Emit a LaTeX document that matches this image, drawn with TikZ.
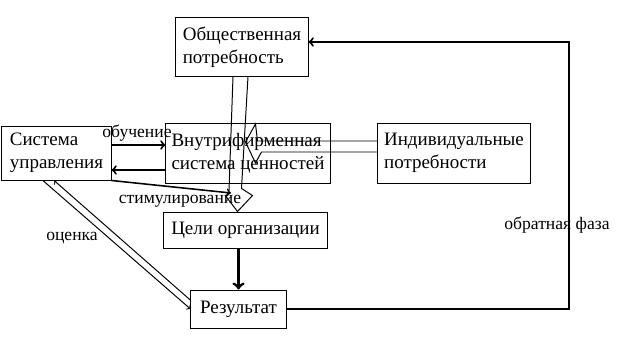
\documentclass[tikz,border=0pt]{standalone}
\usepackage{fontspec}
\setmainfont{Liberation Serif}
\begin{document}
\begin{tikzpicture}[x=0.025cm, y=-0.025cm, line width=0.7pt,
  box/.style={draw, align=left, inner sep=0pt, font=\fontsize{13.5pt}{16pt}\selectfont},
  lbl/.style={inner sep=0pt, font=\fontsize{12.5pt}{15pt}\selectfont}]
\useasboundingbox (0,0) rectangle (624,348);
\node[box, minimum width=3.3cm, minimum height=1.45cm] (obsh) at (242,47) {Общественная\\потребность};
\node[box, minimum width=2.725cm, minimum height=1.35cm] (sys) at (56.5,153) {Система\\управления};
\node[box, minimum width=4.1cm, minimum height=1.5cm] (vnutr) at (248,153) {Внутрифирменная\\система ценностей};
\node[box, minimum width=3.8cm, minimum height=1.5cm] (indiv) at (454,153) {Индивидуальные\\потребности};
\node[box, minimum width=4.075cm, minimum height=0.9cm] (celi) at (245.5,230) {Цели организации};
\node[box, minimum width=2.375cm, minimum height=0.95cm] (rez) at (238.5,309) {Результат};
\node[lbl] (obuch) at (137,133) {обучение};
\node[lbl] (stimul) at (180,201) {стимулирование};
\node[lbl] (ocenka) at (72,238) {оценка};
\node[lbl] (obrat) at (557,225) {обратная фаза};
\coordinate (stim) at (231,193);
\coordinate (fb) at (569,42);
% hollow arrows
\draw ([xshift=-0.225cm]obsh.south) -- ++(-4,114) -- ++(-3,6) -- ([xshift=-0.2cm]celi.north)
  -- ++(15,-16) -- ++(-11,-7) -- ([xshift=0.15cm]obsh.south);
\draw ([yshift=0.3cm]indiv.west) -- ++(-120,0) -- ++(-2,-17) -- ++(-10,18) -- ++(10,21)
  -- ++(6,-11) -- ([yshift=0.025cm]indiv.west);
% connectors
\draw[->, line width=1.4pt] ([yshift=0.2cm]sys.east) -- ([yshift=0.2cm]vnutr.west);
\draw[->, line width=1.4pt] ([yshift=-0.425cm]vnutr.west) -- ([yshift=-0.425cm]sys.east);
\draw[->, line width=1.1pt] (sys.south east) -- (stim);
\draw[->] ([xshift=-0.34cm]sys.south) -- (rez.west);
\draw[->] ([yshift=0.22cm]rez.west) -- ([xshift=-0.06cm]sys.south);
\draw[->, line width=2pt] (celi.south -| rez.north) -- (rez.north);
\draw[->, line width=1.4pt] (rez.east) -| (fb) -- (obsh.east |- fb);
\end{tikzpicture}
\end{document}
